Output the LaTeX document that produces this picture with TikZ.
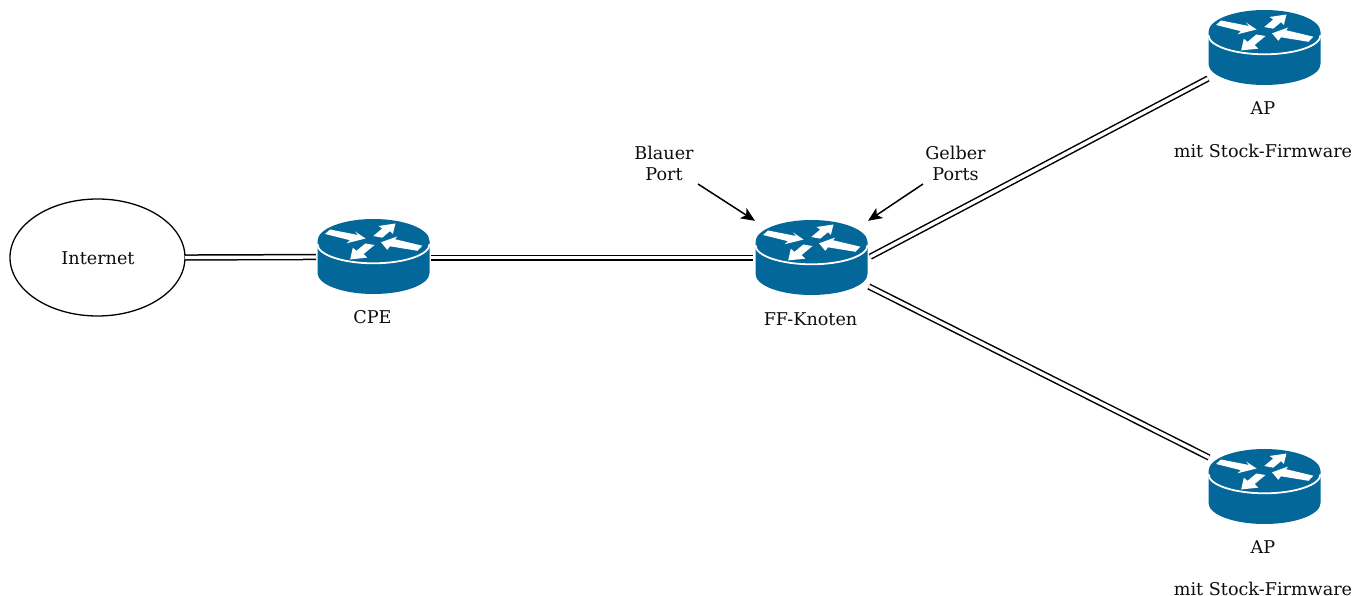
\documentclass[tikz,border=0pt]{standalone}
\usepackage{fontspec}
\setmainfont{DejaVu Serif}
\usetikzlibrary{arrows.meta,shapes.geometric}
\definecolor{routerblue}{RGB}{3,103,153}
\tikzset{
  x=1pt,y=-1pt,
  lbl/.style={inner sep=0pt,font=\fontsize{17.6}{21}\selectfont,text=black!95},
  lblmulti/.style={lbl,align=center},
  wire/.style={draw=black,double=white,double distance=3.4pt,line width=1.5pt},
  pointer/.style={draw=black,line width=1.5pt,-{Stealth[length=14pt,width=12pt,inset=3.5pt]}},
  router/.pic={
    \fill[routerblue] (-56,-16) arc[start angle=180,end angle=0,x radius=56pt,y radius=22pt]
      -- (56,16) arc[start angle=0,end angle=-180,x radius=56pt,y radius=21pt] -- cycle;
    \draw[white,line width=1.8pt] (-56,-12.7) arc[start angle=180,end angle=360,x radius=56pt,y radius=19pt];
    \fill[white] (-48.5,-23)--(-43.5,-27.5)--(-15.5,-22)--(-18.5,-25.5)--(-8,-18.5)--(-27,-13.7)--(-23.5,-16.8)--cycle;
    \fill[white] (22,-33.5)--(5,-31)--(8.7,-28.5)--(-0.3,-21)--(8.7,-19.3)--(16.5,-25.8)--(19.3,-23)--cycle;
    \fill[white] (7.5,-14.7)--(13.8,-7.2)--(16.5,-10.7)--(44,-6.2)--(48.8,-11.3)--(21.5,-17.8)--(23.7,-20.5)--cycle;
    \fill[white] (-23.3,2.4)--(-6.3,0.7)--(-9.8,-3)--(1,-12)--(-8.2,-13.5)--(-17,-6.2)--(-20.7,-9.3)--cycle;
  }
}
\begin{document}
\begin{tikzpicture}
\useasboundingbox (0,0) rectangle (1366,596);
\node[draw=black,line width=1.3pt,ellipse,minimum width=175pt,minimum height=117pt,inner sep=0pt] (inet) at (97.5,257.5) {};
\node[lbl] (inettxt) at (98,258.5) {Internet};
\pic (r1) at (373.5,257) {router};
\pic (r2) at (811.5,258) {router};
\pic (r3) at (1264.5,48) {router};
\pic (r4) at (1264.5,487) {router};
\coordinate (a0) at (185,257.5);
\coordinate (a1) at (316,257);
\coordinate (b0) at (431,257.8);
\coordinate (b1) at (753,257.8);
\coordinate (c0) at (870.3,256.7);
\coordinate (c1) at (1208,78.5);
\coordinate (d0) at (868.8,286.5);
\coordinate (d1) at (1209,457.5);
\draw[wire] (a0)--(a1);
\draw[wire] (b0)--(b1);
\draw[wire] (c0)--(c1);
\draw[wire] (d0)--(d1);
\node[lbl] (l1) at (372.5,317) {CPE};
\node[lbl] (l2) at (810.5,319) {FF-Knoten};
\node[lbl] (l3) at (1263,108) {AP};
\node[lbl] (l4) at (1263,150.5) {mit Stock-Firmware};
\node[lbl] (l5) at (1263,547) {AP};
\node[lbl] (l6) at (1263,588.5) {mit Stock-Firmware};
\node[lblmulti] (bp) at (664,163.5) {Blauer\\Port};
\node[lblmulti] (gp) at (955.5,163.5) {Gelber\\Ports};
\coordinate (bt0) at (698,184);
\coordinate (bt1) at (755,220.8);
\coordinate (gt0) at (923,184);
\coordinate (gt1) at (868,220.8);
\draw[pointer] (bt0)--(bt1);
\draw[pointer] (gt0)--(gt1);
\end{tikzpicture}
\end{document}
